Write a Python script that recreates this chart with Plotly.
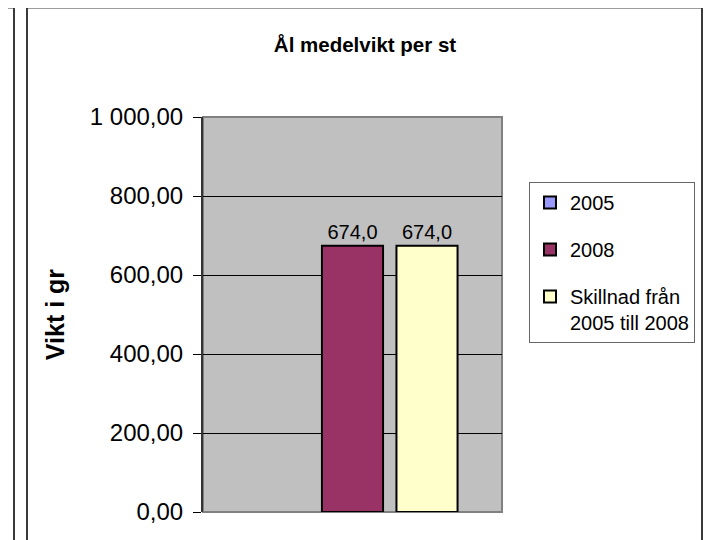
import plotly.graph_objects as go

# ---- data ----
categories = [""]
series_names = ["2005", "2008", "Skillnad från<br>2005 till 2008"]
values_2005 = [None]
values_2008 = [674.0]
values_diff = [674.0]
y_ticks = [0, 200, 400, 600, 800, 1000]

colors = ["#9999FF", "#993366", "#FFFFCC"]
FONT = "Liberation Sans, Arial, sans-serif"

W, H = 711, 540
OFF = 8  # page body margin: figure is drawn 8px right/down
# plot area in page pixels (reference)
RL, RR, RT, RB = 203, 502, 117, 512
PL, PR, PT, PB = RL - OFF, RR - OFF, RT - OFF, RB - OFF  # in figure pixels


def px(x):
    """page pixel x -> paper coordinate"""
    return (x - OFF - PL) / (PR - PL)


def py(y):
    """page pixel y -> paper coordinate"""
    return (PB - (y - OFF)) / (PB - PT)


fig = go.Figure()
for i, (name, vals) in enumerate(zip(series_names, [values_2005, values_2008, values_diff])):
    fig.add_trace(go.Bar(
        x=categories, y=vals, name=name,
        marker=dict(color=colors[i], line=dict(color="#000000", width=2)),
        texttemplate="%{y:.1f}", textposition="outside",
        textfont=dict(family=FONT, size=20, color="#000000"),
        cliponaxis=False,
        legendgroup=f"g{i}",
        hoverinfo="skip",
    ))

shapes = [
    # plot area background + border
    dict(type="rect", xref="paper", yref="paper", x0=0, x1=1, y0=0, y1=1,
         fillcolor="#C0C0C0", line=dict(color="#808080", width=2), layer="below"),
    # right chart frame
    dict(type="rect", xref="paper", yref="paper", x0=px(27), x1=px(702), y0=py(7.5), y1=py(580),
         line=dict(color="#3a3a3a", width=2), fillcolor="rgba(0,0,0,0)", layer="above"),
    # left chart frame (partially visible)
    dict(type="rect", xref="paper", yref="paper", x0=px(-20), x1=px(14), y0=py(7.5), y1=py(580),
         line=dict(color="#3a3a3a", width=2), fillcolor="rgba(0,0,0,0)", layer="above"),
    # left chart legend box (partially visible)
    dict(type="rect", xref="paper", yref="paper", x0=px(-40), x1=px(3), y0=py(188), y1=py(337),
         line=dict(color="#555555", width=1), fillcolor="rgba(0,0,0,0)", layer="above"),
]

fig.update_layout(
    width=W, height=H,
    margin=dict(l=PL, r=W - PR, t=PT, b=H - PB, pad=0),
    paper_bgcolor="#FFFFFF",
    plot_bgcolor="rgba(0,0,0,0)",
    separators=", ",
    barmode="group",
    bargap=0.2525,
    bargroupgap=0.18,
    font=dict(family=FONT, color="#000000"),
    title=dict(text="<b>Ål medelvikt per st</b>", xref="paper", x=px(365), xanchor="center",
               yref="container", y=1 - (45 - OFF) / H, yanchor="middle",
               font=dict(family=FONT, size=20.5, color="#000000")),
    xaxis=dict(showticklabels=False, showgrid=False, zeroline=False, showline=False, ticks=""),
    yaxis=dict(range=[0, 1000], tickvals=y_ticks, tickformat=",.2f",
               tickfont=dict(family=FONT, size=24, color="#000000"),
               ticks="outside", ticklen=8, tickcolor="#000000", tickwidth=1,
               ticklabelstandoff=5,
               showgrid=True, gridcolor="#000000", gridwidth=1,
               showline=True, linecolor="#333333", linewidth=2,
               zeroline=False,
               title=dict(text="<b>Vikt i gr</b>", font=dict(family=FONT, size=25, color="#000000"), standoff=18)),
    legend=dict(x=px(529), xanchor="left", y=py(182), yanchor="top",
                bgcolor="#FFFFFF", bordercolor="#666666", borderwidth=1,
                font=dict(family=FONT, size=20, color="#000000"),
                traceorder="grouped", tracegroupgap=18, valign="top",
                itemwidth=30),
    shapes=shapes,
    showlegend=True,
)

fig.write_html("out.html", config={"displayModeBar": False})
